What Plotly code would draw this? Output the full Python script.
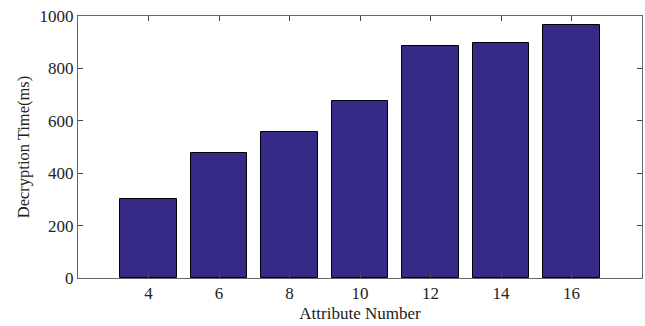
import plotly.graph_objects as go

attributes = [4, 6, 8, 10, 12, 14, 16]
decrypt_ms = [302, 478, 557, 674, 884, 896, 965]
y_ticks = [0, 200, 400, 600, 800, 1000]

fig = go.Figure(go.Bar(
    x=attributes, y=decrypt_ms, width=1.6,
    marker=dict(color="#352a85", line=dict(color="black", width=1)),
))
axis_common = dict(showline=True, linecolor="#666", linewidth=1, mirror="ticks",
                   ticks="inside", ticklen=5, tickcolor="#444", showgrid=False, automargin=False,
                   zeroline=False, tickfont=dict(family="Liberation Serif", size=17, color="#222"))
fig.update_xaxes(range=[2, 18], tickvals=attributes, title=dict(text="Attribute Number", standoff=4,
                 font=dict(family="Liberation Serif", size=17, color="#222")), **axis_common)
fig.update_yaxes(range=[0, 1000], tickvals=y_ticks, title=dict(text="Decryption Time(ms)", standoff=5,
                 font=dict(family="Liberation Serif", size=16.5, color="#222")), **axis_common)
fig.update_layout(width=645, height=326, margin=dict(l=78, r=3, t=16, b=48),
                  plot_bgcolor="white", paper_bgcolor="white", showlegend=False, bargap=0)
fig.write_html("out.html", config={"displayModeBar": False},
               post_script="document.body.style.margin='0';document.body.style.overflow='hidden';")
